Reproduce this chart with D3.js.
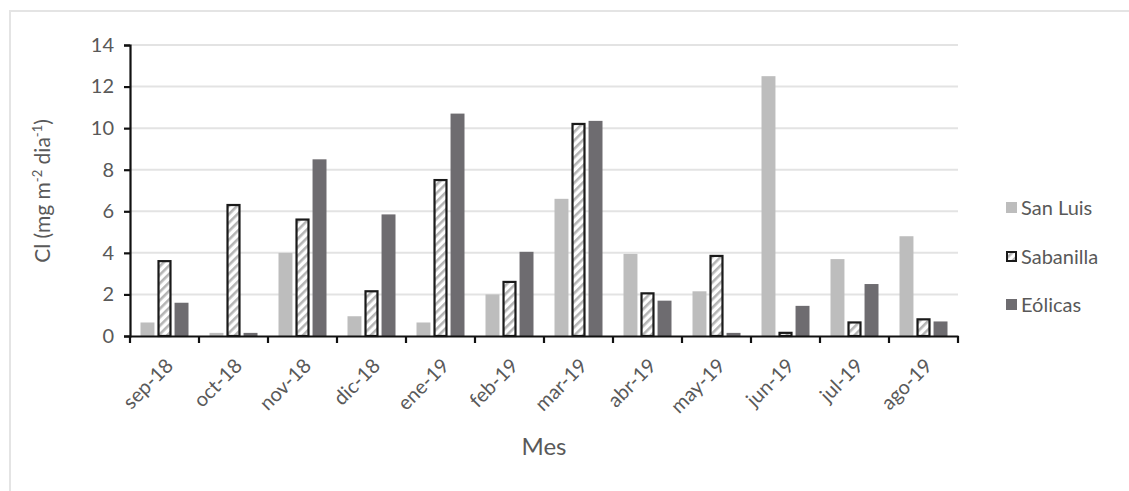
<!DOCTYPE html>
<html>
<head>
<meta charset="utf-8">
<script src="https://cdn.jsdelivr.net/npm/d3@7"></script>
<style>
  body { margin: 0; background: #fff; }
  svg { display: block; font-family: Lato, "Open Sans", sans-serif; }
</style>
</head>
<body>
<svg id="chart" width="1129" height="491"></svg>
<script>
const months = ["sep-18", "oct-18", "nov-18", "dic-18", "ene-19", "feb-19",
  "mar-19", "abr-19", "may-19", "jun-19", "jul-19", "ago-19"];
const seriesNames = ["San Luis", "Sabanilla", "Eólicas"];
const sanLuis = [0.65, 0.15, 4.0, 0.95, 0.65, 2.0, 6.6, 3.95, 2.15, 12.5, 3.7, 4.8];
const sabanilla = [3.65, 6.35, 5.65, 2.2, 7.55, 2.65, 10.25, 2.1, 3.9, 0.2, 0.7, 0.85];
const eolicas = [1.6, 0.15, 8.5, 5.85, 10.7, 4.05, 10.35, 1.7, 0.15, 1.45, 2.5, 0.7];
const yTicks = [0, 2, 4, 6, 8, 10, 12, 14];

const svg = d3.select("#chart");
const W = 1129, H = 491;
const plot = { left: 130, right: 958, top: 45, bottom: 336 };

// frame
svg.append("rect")
  .attr("x", 10).attr("y", 11)
  .attr("width", W + 20).attr("height", H + 20)
  .attr("fill", "#fff")
  .attr("stroke", "#e4e4e4")
  .attr("stroke-width", 2);

const defs = svg.append("defs");
const pat = defs.append("pattern")
  .attr("id", "hatch")
  .attr("patternUnits", "userSpaceOnUse")
  .attr("width", 6).attr("height", 6)
  .attr("patternTransform", "rotate(45)");
pat.append("rect").attr("width", 6).attr("height", 6).attr("fill", "#fff");
pat.append("rect").attr("width", 2.6).attr("height", 6).attr("fill", "#b5b5b5");

const x = d3.scaleBand().domain(months).range([plot.left, plot.right]);
const x1 = d3.scaleBand().domain(seriesNames)
  .range([10.5, x.bandwidth() - 10.5]).paddingInner(0.18);
const y = d3.scaleLinear().domain([0, 14]).range([plot.bottom, plot.top]);

// grid
svg.append("g")
  .selectAll("line")
  .data(yTicks.slice(1))
  .join("line")
  .attr("x1", plot.left).attr("x2", plot.right)
  .attr("y1", (d) => y(d)).attr("y2", (d) => y(d))
  .attr("stroke", "#e3e3e3")
  .attr("stroke-width", 2);

const series = [
  { name: "San Luis", values: sanLuis, fill: "#bdbdbd", stroke: "none" },
  { name: "Sabanilla", values: sabanilla, fill: "url(#hatch)", stroke: "#1a1a1a" },
  { name: "Eólicas", values: eolicas, fill: "#6e6c70", stroke: "none" },
];

series.forEach((s) => {
  const inset = s.stroke === "none" ? 0 : 1;
  svg.append("g")
    .selectAll("rect")
    .data(s.values.map((v, i) => ({ m: months[i], v: v })))
    .join("rect")
    .attr("x", (d) => x(d.m) + x1(s.name) + inset)
    .attr("y", (d) => y(d.v) + inset)
    .attr("width", x1.bandwidth() - 2 * inset)
    .attr("height", (d) => Math.max(0, plot.bottom - y(d.v) - inset))
    .attr("fill", s.fill)
    .attr("stroke", s.stroke)
    .attr("stroke-width", 2.2);
});

// y axis
const yAxis = svg.append("g")
  .attr("transform", `translate(${plot.left},0)`)
  .call(d3.axisLeft(y).tickValues(yTicks).tickSize(6).tickPadding(10));
yAxis.select(".domain").attr("stroke", "#111").attr("stroke-width", 2.2);
yAxis.selectAll(".tick line").attr("stroke", "#111").attr("stroke-width", 2.2);
yAxis.selectAll(".tick text")
  .attr("fill", "#595959").attr("font-size", 20).attr("font-family", "Lato, sans-serif");

// x axis
const xAxis = svg.append("g")
  .attr("transform", `translate(0,${plot.bottom})`)
  .call(d3.axisBottom(x).tickSize(0).tickFormat(""));
xAxis.select(".domain").attr("stroke", "#111").attr("stroke-width", 2.2);
xAxis.selectAll(".tick").remove();
svg.append("g")
  .selectAll("line")
  .data(d3.range(months.length + 1))
  .join("line")
  .attr("x1", (i) => plot.left + i * x.step())
  .attr("x2", (i) => plot.left + i * x.step())
  .attr("y1", plot.bottom).attr("y2", plot.bottom + 7)
  .attr("stroke", "#111").attr("stroke-width", 2.2);

svg.append("g")
  .selectAll("text")
  .data(months)
  .join("text")
  .attr("transform", (d) => `translate(${x(d) + x.bandwidth() / 2 + 5},${plot.bottom + 26}) rotate(-45)`)
  .attr("text-anchor", "end")
  .attr("dy", "0.35em")
  .attr("fill", "#595959")
  .attr("font-size", 20)
  .text((d) => d);

// axis titles
svg.append("text")
  .attr("x", 544).attr("y", 455)
  .attr("text-anchor", "middle")
  .attr("fill", "#595959")
  .attr("font-size", 24)
  .text("Mes");

const yl = svg.append("text")
  .attr("transform", "translate(50,191) rotate(-90)")
  .attr("text-anchor", "middle")
  .attr("fill", "#595959")
  .attr("font-size", 21);
yl.append("tspan").text("Cl (mg m");
yl.append("tspan").attr("dy", -8).attr("font-size", 13).text("-2");
yl.append("tspan").attr("dy", 8).text(" dia");
yl.append("tspan").attr("dy", -8).attr("font-size", 13).text("-1");
yl.append("tspan").attr("dy", 8).text(")");

// legend
const legend = svg.append("g").attr("transform", "translate(1006,0)");
const legY = [208, 257, 305];
series.forEach((s, i) => {
  const g = legend.append("g").attr("transform", `translate(0,${legY[i]})`);
  if (s.stroke === "none") {
    g.append("rect").attr("x", 0).attr("y", -6).attr("width", 11).attr("height", 11).attr("fill", s.fill);
  } else {
    g.append("rect").attr("x", 1).attr("y", -5).attr("width", 9).attr("height", 9)
      .attr("fill", s.fill).attr("stroke", s.stroke).attr("stroke-width", 2);
  }
  g.append("text")
    .attr("x", 15).attr("y", 0)
    .attr("dy", "0.35em")
    .attr("fill", "#595959")
    .attr("font-size", 20)
    .text(s.name);
});
</script>
</body>
</html>
